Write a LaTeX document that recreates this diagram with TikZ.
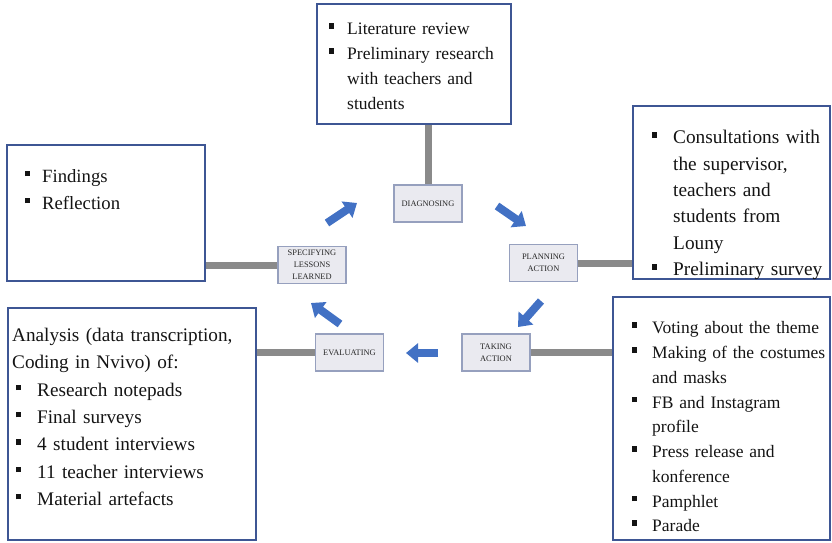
\documentclass[tikz,border=0pt]{standalone}
\usepackage{fontspec}
\setmainfont{Liberation Serif}
\usepackage{enumitem}
\usepackage{tikz}
\usetikzlibrary{arrows.meta}

\definecolor{boxblue}{RGB}{62,86,148}
\definecolor{arrblue}{RGB}{66,113,196}
\definecolor{bargray}{RGB}{138,138,138}
\definecolor{stagefill}{RGB}{234,234,240}
\definecolor{stageline}{RGB}{150,160,190}
\setlist[itemize]{nosep,label=\raisebox{6pt}{\rule{4.5pt}{5.5pt}},labelwidth=4.5pt,align=left}

\begin{document}
\begin{tikzpicture}[x=1pt,y=-1pt,
    bigbox/.style={draw=boxblue,line width=1.8pt,inner sep=0pt},
    stage/.style={draw=stageline,line width=1.2pt,fill=stagefill,minimum width=68pt,
      minimum height=37pt,inner sep=1pt,align=center,
      font=\fontsize{8.4}{12}\selectfont,text=black!85},
    txt/.style={anchor=north west,inner sep=0pt,align=left,text=black!92},
    link/.style={draw=bargray,line width=7pt},
    cyc/.style={draw=arrblue,line width=8pt,-{Triangle[width=19pt,length=12pt]}}]
    \useasboundingbox (0,0) rectangle (832,542);
    % Stages
    \node[stage] (diag) at (428,203.5) {DIAGNOSING};
    \node[stage] (plan) at (543.5,263) {PLANNING\\ACTION};
    \node[stage] (take) at (496,352.5) {TAKING\\ACTION};
    \node[stage] (eval) at (349.5,352.5) {EVALUATING};
    \node[stage] (spec) at (312,265) {SPECIFYING\\LESSONS\\LEARNED};
    % Detail boxes
    \node[bigbox,minimum width=194pt,minimum height=120pt] (topbox) at (414,64) {};
    \node[bigbox,minimum width=198pt,minimum height=136pt] (findbox) at (106,213) {};
    \node[bigbox,minimum width=197pt,minimum height=173pt] (planbox) at (731.5,192.5) {};
    \node[bigbox,minimum width=217pt,minimum height=243pt] (actbox) at (721.5,418.5) {};
    \node[bigbox,minimum width=248pt,minimum height=232pt] (evalbox) at (132,424) {};
    % Box texts
    \node[txt,text width=180pt,font=\fontsize{17.5}{24.7}\selectfont] (toptxt) at (329,10) {%
      \begin{itemize}[leftmargin=18pt,labelsep=13.5pt]
        \item Literature review
        \item Preliminary research\\ with teachers and\\ students
      \end{itemize}};
    \node[txt,text width=175pt,font=\fontsize{18.7}{27}\selectfont] (findtxt) at (25,155) {%
      \begin{itemize}[leftmargin=17pt,labelsep=12.5pt]
        \item Findings
        \item Reflection
      \end{itemize}};
    \node[txt,text width=178pt,font=\fontsize{19.3}{26.4}\selectfont] (plantxt) at (652,117) {%
      \begin{itemize}[leftmargin=21pt,labelsep=16.5pt]
        \item Consultations with\\ the supervisor,\\ teachers and\\ students from\\ Louny
        \item Preliminary survey
      \end{itemize}};
    \node[txt,text width=195pt,font=\fontsize{17.5}{24.75}\selectfont] (acttxt) at (632,309) {%
      \begin{itemize}[leftmargin=20pt,labelsep=15.5pt]
        \item Voting about the theme
        \item Making of the costumes\\ and masks
        \item FB and Instagram\\ profile
        \item Press release and\\ konference
        \item Pamphlet
        \item Parade
      \end{itemize}};
    \node[txt,text width=240pt,font=\fontsize{19.2}{27.3}\selectfont] (evaltxt) at (12,328) {%
      Analysis (data transcription,\\ Coding in Nvivo) of:
      \begin{itemize}[labelindent=4pt,leftmargin=25pt,labelsep=16.5pt]
        \item Research notepads
        \item Final surveys
        \item 4 student interviews
        \item 11 teacher interviews
        \item Material artefacts
      \end{itemize}};
    % Links
    \draw[link] (diag.north) -- (diag.north |- topbox.south);
    \draw[link] (plan.east) -- (plan.east -| planbox.west);
    \draw[link] (take.east) -- (take.east -| actbox.west);
    \draw[link] (eval.west) -- (eval.west -| evalbox.east);
    \draw[link] (spec.west) -- (spec.west -| findbox.east);
    % Cycle arrows
    \coordinate (sd1) at (327,223);
    \coordinate (sd2) at (357,203);
    \coordinate (dp1) at (497,206);
    \coordinate (dp2) at (526,226);
    \coordinate (pt1) at (541,301);
    \coordinate (pt2) at (518,327);
    \coordinate (te1) at (438,353);
    \coordinate (te2) at (406,353);
    \coordinate (es1) at (340,324);
    \coordinate (es2) at (311,303);
    \draw[cyc] (sd1) -- (sd2);
    \draw[cyc] (dp1) -- (dp2);
    \draw[cyc] (pt1) -- (pt2);
    \draw[cyc] (te1) -- (te2);
    \draw[cyc] (es1) -- (es2);
\end{tikzpicture}
\end{document}
